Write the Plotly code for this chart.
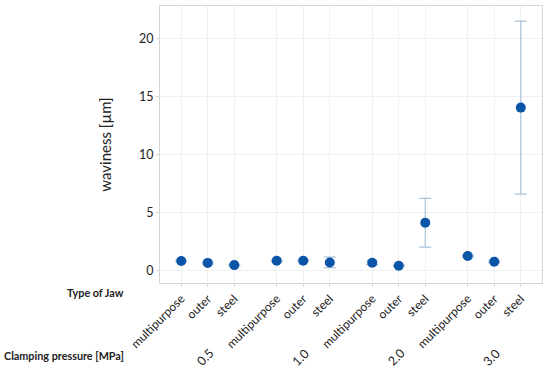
import plotly.graph_objects as go

pressures = ["0.5", "1.0", "2.0", "3.0"]
jaws = ["multipurpose", "outer", "steel"]
waviness = [
    [0.85, 0.68, 0.49],
    [0.86, 0.86, 0.72],
    [0.69, 0.43, 4.14],
    [1.27, 0.78, 14.05],
]
err = [
    [0.08, 0.08, 0.06],
    [0.08, 0.08, 0.45],
    [0.15, 0.06, 2.1],
    [0.1, 0.08, 7.45],
]

GROUP_STEP = 3.6
xs, ys, es, tt = [], [], [], []
for g, p in enumerate(pressures):
    for j, jaw in enumerate(jaws):
        xs.append(g * GROUP_STEP + j)
        ys.append(waviness[g][j])
        es.append(err[g][j])
        tt.append(jaw)

font = "Lato, Open Sans, sans-serif"
fig = go.Figure()
fig.add_trace(go.Scatter(
    x=xs, y=ys, mode="markers",
    marker=dict(color="#0a55a8", size=10),
    error_y=dict(type="data", array=es, visible=True, color="#a8c3dc",
                 thickness=1.2, width=6),
    showlegend=False,
))

annotations = [
    dict(text="Type of Jaw", xref="paper", yref="paper", x=-0.088, y=-0.035,
         xanchor="right", yanchor="middle", showarrow=False,
         font=dict(size=10.8, color="#222", family=font, weight=700)),
    dict(text="Clamping pressure [MPa]", xref="paper", yref="paper", x=-0.088,
         y=-0.26, xanchor="right", yanchor="middle", showarrow=False,
         font=dict(size=10.8, color="#222", family=font, weight=700)),
]
for g, p in enumerate(pressures):
    annotations.append(dict(
        text=p, x=g * GROUP_STEP + 1 - 0.1, xref="x", yref="paper", y=-0.27,
        textangle=-45, showarrow=False, xanchor="center", yanchor="middle",
        font=dict(size=12.5, color="#222", family=font)))

fig.update_layout(
    width=550, height=372,
    margin=dict(l=160, r=8, t=6, b=89),
    plot_bgcolor="white", paper_bgcolor="white",
    font=dict(family=font, color="#222", size=12.5),
    annotations=annotations,
    xaxis=dict(
        range=[-0.8, 3 * GROUP_STEP + 2 + 0.8],
        tickvals=xs, ticktext=tt, tickangle=-45, automargin=False,
        showgrid=True, gridcolor="#f0f0f0", zeroline=False,
        showline=True, linecolor="#d6d6d6", mirror=True,
        ticks="outside", ticklen=3, tickcolor="#d6d6d6",
        tickfont=dict(size=12),
    ),
    yaxis=dict(
        range=[-1.05, 22.8], automargin=False,
        tickvals=[0, 5, 10, 15, 20],
        showgrid=True, gridcolor="#f0f0f0", zeroline=False,
        showline=True, linecolor="#d6d6d6", mirror=True,
        ticks="outside", ticklen=3, tickcolor="#d6d6d6",
        tickfont=dict(size=12.5),
        title=dict(text="waviness [µm]", font=dict(size=15), standoff=23),
    ),
)
fig.write_html("out.html", config={"displayModeBar": False},
               post_script="document.body.style.margin='0';")
